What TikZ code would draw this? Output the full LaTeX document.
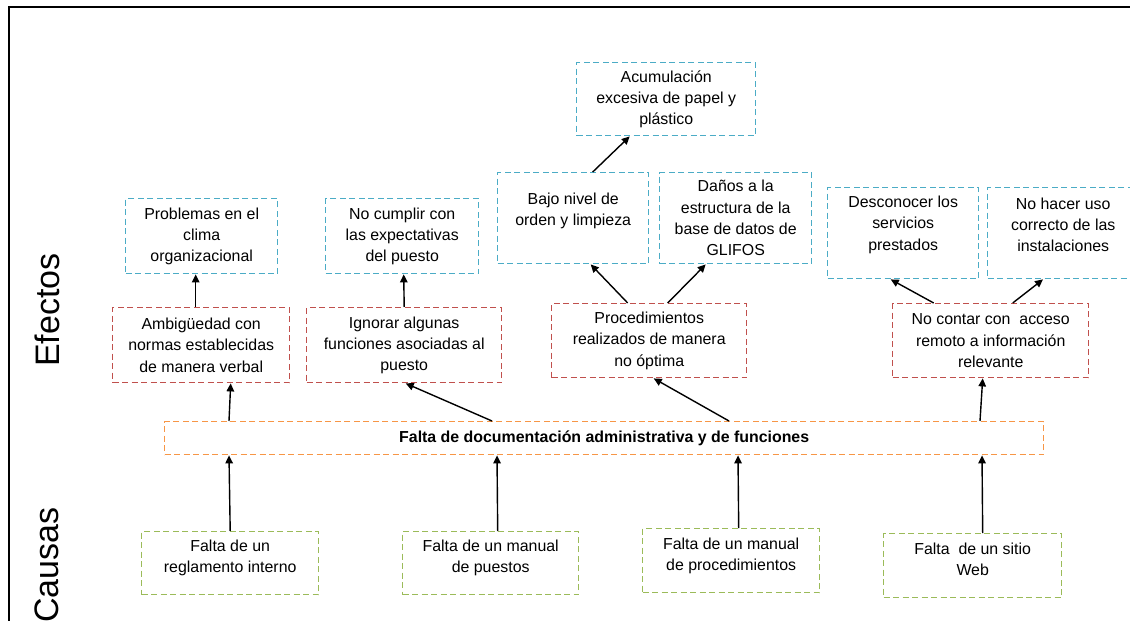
\documentclass[tikz,border=0pt]{standalone}
\usepackage{fontspec}
\setmainfont{Liberation Sans}
\usetikzlibrary{arrows.meta}
\definecolor{cblue}{HTML}{4BACC6}
\definecolor{cred}{HTML}{C0504D}
\definecolor{corange}{HTML}{F79646}
\definecolor{cgreen}{HTML}{9BBB59}
\newcommand{\boxtext}[4]{\begin{minipage}[c][#2pt][c]{#1pt}\centering\fontsize{15.9}{21.3}\selectfont #4\par\vspace*{#3pt}\end{minipage}}
\tikzset{
  bx/.style={draw=#1, dash pattern=on 6pt off 3.5pt, line width=1.4pt, inner sep=0pt, anchor=north west},
  arr/.style={-{Triangle[length=8pt,width=7.5pt]}, line width=1.4pt, black},
  side/.style={rotate=90, inner sep=0pt, font=\fontsize{34}{40}\selectfont}
}
\begin{document}
\begin{tikzpicture}[x=1pt,y=-1pt]
\useasboundingbox (0,0) rectangle (1130,621);
\clip (0,0) rectangle (1130,621);
\fill[white] (0,0) rectangle (1130,621);
% frame
\draw[line width=2.2pt] (9,640) -- (9,7) -- (1140,7);
% side labels
\node[side] (efe) at (47,310) {Efectos};
\node[side] (cau) at (47,565) {Causas};
% blue effect boxes
\node[bx=cblue] (acum) at (576,62) {\boxtext{179}{73}{0}{Acumulación\\excesiva de papel y\\plástico}};
\node[bx=cblue] (bajo) at (497,172) {\boxtext{151}{91}{15}{Bajo nivel de\\orden y limpieza}};
\node[bx=cblue] (danos) at (659,172) {\boxtext{152}{91}{0}{Daños a la\\estructura de la\\base de datos de\\GLIFOS}};
\node[bx=cblue] (prob) at (125,198) {\boxtext{152}{75}{0}{Problemas en el\\clima\\organizacional}};
\node[bx=cblue] (cumplir) at (325,198) {\boxtext{153}{75}{0}{No cumplir con\\las expectativas\\del puesto}};
\node[bx=cblue] (desc) at (827,187) {\boxtext{151}{91}{17}{Desconocer los\\servicios\\prestados}};
\node[bx=cblue] (hacer) at (987,187) {\boxtext{151}{91}{17}{No hacer uso\\correcto de las\\instalaciones}};
% red effect boxes
\node[bx=cred] (amb) at (112,307) {\boxtext{177}{75}{0}{Ambigüedad con\\normas establecidas\\de manera verbal}};
\node[bx=cred] (ign) at (306,307) {\boxtext{195}{75}{0}{Ignorar algunas\\funciones asociadas al\\puesto}};
\node[bx=cred] (proc) at (551,303) {\boxtext{195}{74}{0}{Procedimientos\\realizados de manera\\no óptima}};
\node[bx=cred] (cont) at (892,303) {\boxtext{196}{74}{0}{No contar con\ \ acceso\\remoto a información\\relevante}};
% central problem
\node[bx=corange] (cen) at (164,421) {\boxtext{879}{33}{0}{\textbf{Falta de documentación administrativa y de funciones}}};
% green cause boxes
\node[bx=cgreen] (regl) at (141,531) {\boxtext{177}{63}{11}{Falta de un\\reglamento interno}};
\node[bx=cgreen] (mpue) at (402,531) {\boxtext{176}{63}{11}{Falta de un manual\\de puestos}};
\node[bx=cgreen] (mproc) at (642,528) {\boxtext{177}{64}{9}{Falta de un manual\\de procedimientos}};
\node[bx=cgreen] (web) at (883,533) {\boxtext{178}{64}{13}{Falta\ \ de un sitio\\Web}};
% connectors: causes -> central
\draw[arr] (regl.north) -- ([xshift=65pt]cen.south west);
\draw[arr] ([xshift=7pt]mpue.north) -- ([xshift=333pt]cen.south west);
\draw[arr] ([xshift=7.5pt]mproc.north) -- ([xshift=574pt]cen.south west);
\draw[arr] ([xshift=10pt]web.north) -- ([xshift=818pt]cen.south west);
% central -> red effects
\draw[arr] ([xshift=65pt]cen.north west) -- ([xshift=29.5pt]amb.south);
\draw[arr] ([xshift=328pt]cen.north west) -- ([xshift=1.5pt]ign.south);
\draw[arr] ([xshift=565pt]cen.north west) -- ([xshift=4.5pt]proc.south);
\draw[arr] ([xshift=816pt]cen.north west) -- ([xshift=-8pt]cont.south);
% red -> blue effects
\draw[arr] ([xshift=-5.5pt]amb.north) -- ([xshift=-6pt]prob.south);
\draw[arr] (ign.north) -- ([xshift=1.5pt]cumplir.south);
\draw[arr] ([xshift=-21.5pt]proc.north) -- ([xshift=17.5pt]bajo.south);
\draw[arr] ([xshift=18.5pt]proc.north) -- ([xshift=-30pt]danos.south);
\draw[arr] ([xshift=-57pt]cont.north) -- ([xshift=-12.5pt]desc.south);
\draw[arr] ([xshift=22pt]cont.north) -- ([xshift=56pt]hacer.south west);
\draw[arr] ([xshift=19.5pt]bajo.north) -- ([xshift=-36.5pt]acum.south);
\end{tikzpicture}
\end{document}
